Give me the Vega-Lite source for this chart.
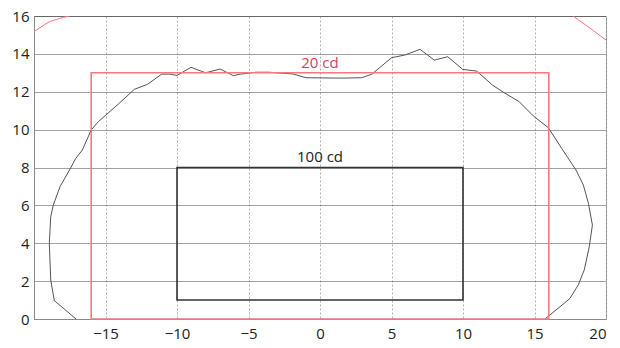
{
  "$schema": "https://vega.github.io/schema/vega-lite/v6.json",
  "autosize": "none",
  "width": 572,
  "height": 303,
  "padding": {"left": 34, "top": 16, "right": 14, "bottom": 29},
  "background": "white",
  "config": {
    "font": "Open Sans",
    "view": {"stroke": "#8a8a8a", "strokeWidth": 1},
    "axis": {"labelFont": "Open Sans", "labelFontSize": 15, "labelColor": "#222", "domainColor": "#8a8a8a", "tickColor": "#8a8a8a", "title": null, "labelOverlap": false, "tickSize": 0, "gridOpacity": 1},
    "axisX": {"gridColor": "#b0b0b0", "gridDash": [2, 2], "labelPadding": 7},
    "axisY": {"gridColor": "#444444", "gridDash": [1, 1], "labelPadding": 5}
  },
  "datasets": {
    "contour": [
      {"i": 0, "x": -17.06, "y": 0},
      {"i": 1, "x": -18.58, "y": 0.97},
      {"i": 2, "x": -18.83, "y": 2.06},
      {"i": 3, "x": -18.93, "y": 4.0},
      {"i": 4, "x": -18.83, "y": 5.4},
      {"i": 5, "x": -18.65, "y": 6.02},
      {"i": 6, "x": -18.18, "y": 6.99},
      {"i": 7, "x": -17.48, "y": 7.92},
      {"i": 8, "x": -17.08, "y": 8.48},
      {"i": 9, "x": -16.62, "y": 8.92},
      {"i": 10, "x": -16.0, "y": 9.98},
      {"i": 11, "x": -15.5, "y": 10.42},
      {"i": 12, "x": -14.97, "y": 10.77},
      {"i": 13, "x": -14.0, "y": 11.42},
      {"i": 14, "x": -12.98, "y": 12.13},
      {"i": 15, "x": -12.07, "y": 12.39},
      {"i": 16, "x": -11.07, "y": 12.93},
      {"i": 17, "x": -10.5, "y": 12.93},
      {"i": 18, "x": -10.0, "y": 12.86},
      {"i": 19, "x": -9.02, "y": 13.29},
      {"i": 20, "x": -8.0, "y": 13.0},
      {"i": 21, "x": -6.99, "y": 13.2},
      {"i": 22, "x": -6.06, "y": 12.85},
      {"i": 23, "x": -5.55, "y": 12.93},
      {"i": 24, "x": -4.5, "y": 13.03},
      {"i": 25, "x": -3.55, "y": 13.03},
      {"i": 26, "x": -1.9, "y": 12.94},
      {"i": 27, "x": -0.98, "y": 12.74},
      {"i": 28, "x": 1.5, "y": 12.72},
      {"i": 29, "x": 2.91, "y": 12.74},
      {"i": 30, "x": 3.61, "y": 12.92},
      {"i": 31, "x": 5.01, "y": 13.8},
      {"i": 32, "x": 5.94, "y": 13.94},
      {"i": 33, "x": 6.99, "y": 14.24},
      {"i": 34, "x": 8.0, "y": 13.67},
      {"i": 35, "x": 8.93, "y": 13.85},
      {"i": 36, "x": 9.98, "y": 13.18},
      {"i": 37, "x": 10.96, "y": 13.09},
      {"i": 38, "x": 12.08, "y": 12.34},
      {"i": 39, "x": 12.94, "y": 11.92},
      {"i": 40, "x": 13.94, "y": 11.47},
      {"i": 41, "x": 14.92, "y": 10.72},
      {"i": 42, "x": 15.97, "y": 10.1},
      {"i": 43, "x": 16.9, "y": 9.01},
      {"i": 44, "x": 17.9, "y": 7.87},
      {"i": 45, "x": 18.42, "y": 7.07},
      {"i": 46, "x": 18.77, "y": 6.11},
      {"i": 47, "x": 19.05, "y": 4.96},
      {"i": 48, "x": 18.83, "y": 3.82},
      {"i": 49, "x": 18.48, "y": 2.59},
      {"i": 50, "x": 18.06, "y": 1.8},
      {"i": 51, "x": 17.48, "y": 1.09},
      {"i": 52, "x": 17.13, "y": 0.86},
      {"i": 53, "x": 15.73, "y": 0.0}
    ],
    "redcurve": [
      {"s": "left", "i": 0, "x": -20.0, "y": 15.18},
      {"s": "left", "i": 1, "x": -18.93, "y": 15.7},
      {"s": "left", "i": 2, "x": -17.95, "y": 15.93},
      {"s": "left", "i": 3, "x": -17.5, "y": 16.0},
      {"s": "right", "i": 0, "x": 17.7, "y": 16.0},
      {"s": "right", "i": 1, "x": 18.9, "y": 15.35},
      {"s": "right", "i": 2, "x": 20.0, "y": 14.73}
    ],
    "rects": [
      {"name": "20 cd", "x1": -16, "x2": 16, "y1": 0, "y2": 13},
      {"name": "100 cd", "x1": -10, "x2": 10, "y1": 1, "y2": 8}
    ],
    "labels": [
      {"name": "20 cd", "x": 0.0, "y": 13.5},
      {"name": "100 cd", "x": 0.0, "y": 8.55}
    ]
  },
  "layer": [
    {
      "data": {"name": "contour"},
      "mark": {"type": "line", "color": "#555555", "strokeWidth": 1, "clip": true},
      "encoding": {
        "x": {"field": "x", "type": "quantitative", "scale": {"domain": [-20, 20], "nice": false, "zero": false},
          "axis": {"values": [-20, -15, -10, -5, 0, 5, 10, 15, 20], "labelExpr": "datum.value == -20 ? '' : datum.label"}},
        "y": {"field": "y", "type": "quantitative", "scale": {"domain": [0, 16], "nice": false}},
        "order": {"field": "i", "type": "quantitative"}
      }
    },
    {
      "data": {"name": "redcurve"},
      "mark": {"type": "line", "color": "#f07a80", "strokeWidth": 1, "clip": true},
      "encoding": {
        "x": {"field": "x", "type": "quantitative"},
        "y": {"field": "y", "type": "quantitative"},
        "detail": {"field": "s"},
        "order": {"field": "i", "type": "quantitative"}
      }
    },
    {
      "data": {"name": "rects"},
      "mark": {"type": "rect", "filled": false, "strokeWidth": 1.6},
      "encoding": {
        "x": {"field": "x1", "type": "quantitative"},
        "x2": {"field": "x2"},
        "y": {"field": "y1", "type": "quantitative"},
        "y2": {"field": "y2"},
        "stroke": {"field": "name", "type": "nominal", "scale": {"domain": ["20 cd", "100 cd"], "range": ["#f07a80", "#333333"]}, "legend": null}
      }
    },
    {
      "data": {"name": "labels"},
      "mark": {"type": "text", "fontSize": 15, "font": "Open Sans", "baseline": "middle", "align": "center"},
      "encoding": {
        "x": {"field": "x", "type": "quantitative"},
        "y": {"field": "y", "type": "quantitative"},
        "text": {"field": "name"},
        "color": {"field": "name", "type": "nominal", "scale": {"domain": ["20 cd", "100 cd"], "range": ["#d8415e", "#222222"]}, "legend": null}
      }
    }
  ]
}
